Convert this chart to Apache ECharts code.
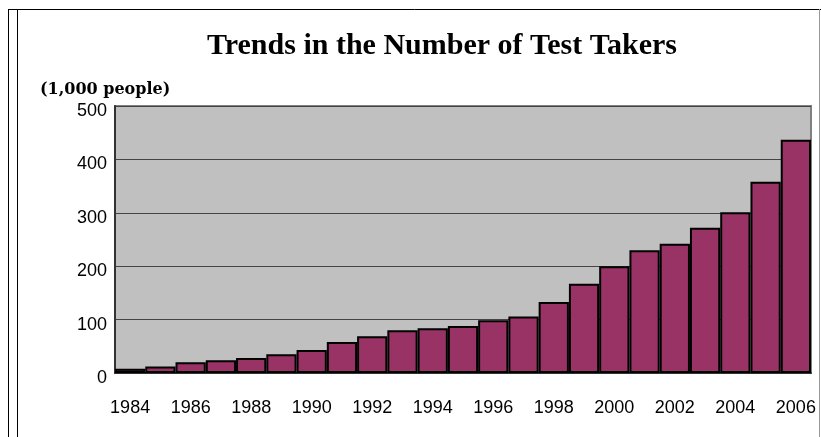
<!DOCTYPE html>
<html>
<head>
<meta charset="utf-8">
<script src="https://cdn.jsdelivr.net/npm/echarts@6/dist/echarts.min.js"></script>
<style>html,body{margin:0;padding:0;background:#fff;}#c{width:821px;height:437px;}</style>
</head>
<body>
<div id="c"></div>
<script>
const years = ['1984','1985','1986','1987','1988','1989','1990','1991','1992','1993','1994','1995','1996','1997','1998','1999','2000','2001','2002','2003','2004','2005','2006'];
const testTakers = [8,12,20,24,28,35,43,58,69,80,84,88,99,106,133,167,200,230,242,272,301,358,437];
const yTicks = [0,100,200,300,400,500];

const chart = echarts.init(document.getElementById('c'));
chart.setOption({
  animation: false,
  backgroundColor: '#fff',
  title: [
    { text: 'Trends in the Number of Test Takers', left: 437, top: 26, textAlign: 'center',
      textStyle: { fontFamily: 'Liberation Serif', fontWeight: 'bold', fontSize: 30, color: '#000' } },
    { text: '(1,000 people)', left: 35, top: 77,
      textStyle: { fontFamily: 'DejaVu Serif', fontWeight: 'bold', fontSize: 16, color: '#000' } }
  ],
  graphic: [
    { type: 'line', shape: { x1: 8.5, y1: 9, x2: 8.5, y2: 437 }, style: { stroke: '#000', lineWidth: 1 } },
    { type: 'line', shape: { x1: 17.5, y1: 9, x2: 17.5, y2: 437 }, style: { stroke: '#000', lineWidth: 1 } },
    { type: 'line', shape: { x1: 8, y1: 9.5, x2: 821, y2: 9.5 }, style: { stroke: '#000', lineWidth: 1 } },
    { type: 'line', shape: { x1: 819.5, y1: 9, x2: 819.5, y2: 437 }, style: { stroke: '#999', lineWidth: 1 } }
  ],
  grid: { left: 115, right: 10, top: 106, bottom: 64, show: true, backgroundColor: '#c0c0c0', borderColor: '#808080', borderWidth: 2 },
  xAxis: {
    type: 'category', data: years,
    axisLine: { lineStyle: { color: '#333', width: 2 } },
    axisTick: { show: false },
    axisLabel: { interval: 1, margin: 26, fontFamily: 'Liberation Sans', fontSize: 18, color: '#000' }
  },
  yAxis: {
    type: 'value', min: yTicks[0], max: yTicks[yTicks.length - 1], interval: 100,
    axisLine: { show: true, lineStyle: { color: '#333', width: 2 } },
    axisTick: { show: false },
    splitLine: { lineStyle: { color: '#444', width: 1 } },
    axisLabel: { margin: 8, fontFamily: 'Liberation Sans', fontSize: 18, color: '#000', verticalAlign: 'top', lineHeight: 10 }
  },
  series: [{
    type: 'bar', data: testTakers, barCategoryGap: '0%',
    itemStyle: { color: '#993366', borderColor: '#000', borderWidth: 2 }
  }]
});
</script>
</body>
</html>
